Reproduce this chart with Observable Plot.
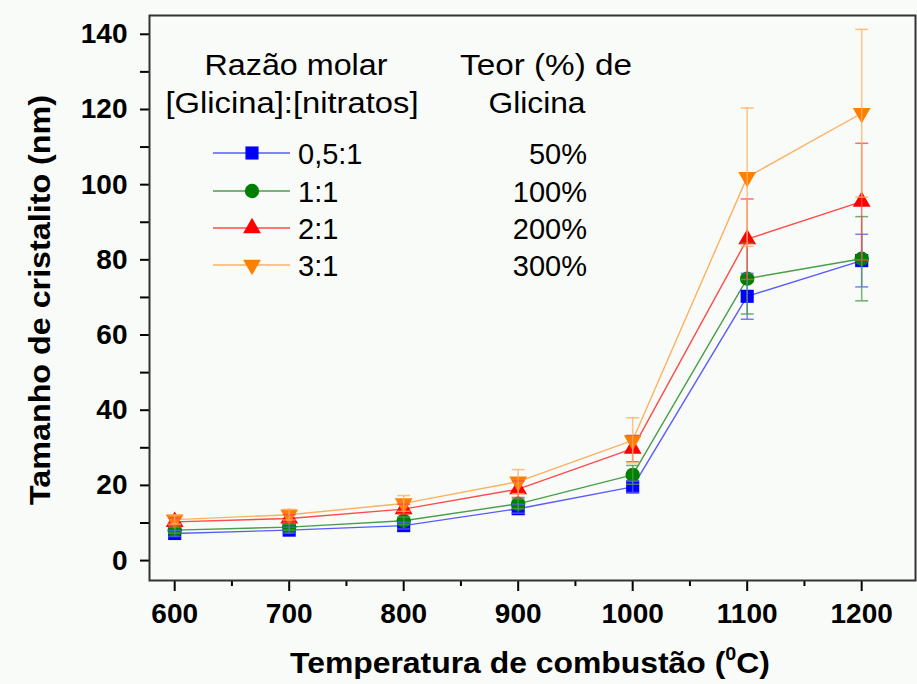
<!DOCTYPE html>
<html><head><meta charset="utf-8">
<script src="https://cdn.jsdelivr.net/npm/d3@7"></script>
<script src="https://cdn.jsdelivr.net/npm/@observablehq/plot@0.6"></script>
<style>
body{margin:0;background:#f8fbf8;}
#chart{width:917px;height:684px;}
</style></head><body><div id="chart"></div>
<script>
// ---- data ----
const temperatures = [600, 700, 800, 900, 1000, 1100, 1200];
const seriesNames = ["0,5:1", "1:1", "2:1", "3:1"];
const glycineContent = ["50%", "100%", "200%", "300%"];
const size05 = [7.2, 8.1, 9.3, 13.8, 19.6, 70.3, 79.8];
const err05  = [0.8, 0.8, 0.9, 1.2, 1.5, 6.1, 7.0];
const size1  = [8.1, 8.9, 10.6, 15.1, 22.8, 75.0, 80.3];
const err1   = [0.8, 0.8, 1.0, 1.3, 2.5, 9.4, 11.2];
const size2  = [10.3, 11.2, 13.7, 19.0, 29.8, 85.5, 95.5];
const err2   = [1.0, 1.0, 1.3, 2.2, 3.5, 10.7, 15.5];
const size3  = [10.9, 12.2, 15.2, 21.0, 32.0, 102.0, 119.0];
const err3   = [1.2, 1.4, 2.1, 3.2, 6.0, 18.4, 22.3];
const xMajor = [600, 700, 800, 900, 1000, 1100, 1200];
const xMinor = [650, 750, 850, 950, 1050, 1150];
const yMajor = [0, 20, 40, 60, 80, 100, 120, 140];
const yMinor = [10, 30, 50, 70, 90, 110, 130];

const values = [size05, size1, size2, size3];
const errors = [err05, err1, err2, err3];
const colors = ["#0000ff", "#008000", "#ff0000", "#ff8000"];
const lineColors = ["#5a5aff", "#4a9e4a", "#ff4a4a", "#ffb060"];
const symbols = ["square", "circle", "triangle", "triangle"];
const rotations = [0, 0, 0, 180];
const radii = [7.4, 7.2, 6.6, 6.6];

const rows = seriesNames.flatMap((s, i) =>
  temperatures.map((t, j) => ({series: s, i, t, v: values[i][j], e: errors[i][j]})));

const capSymbol = {draw(ctx, size) { const w = Math.sqrt(size); ctx.moveTo(-w / 2, 0); ctx.lineTo(w / 2, 0); }};

const lineMarks = seriesNames.map((s, i) =>
  Plot.line(rows.filter(d => d.i === i), {x: "t", y: "v", stroke: lineColors[i], strokeWidth: 1.4}));
const dotMarks = seriesNames.map((s, i) =>
  Plot.dot(rows.filter(d => d.i === i), {x: "t", y: "v", symbol: symbols[i], rotate: rotations[i], r: radii[i], fill: colors[i], stroke: "none"}));
const errMarks = seriesNames.flatMap((s, i) => {
  const d = rows.filter(r => r.i === i);
  return [
    Plot.ruleX(d, {x: "t", y1: r => r.v - r.e, y2: r => r.v + r.e, stroke: lineColors[i], strokeWidth: 1.5, strokeOpacity: 0.75}),
    Plot.dot(d, {x: "t", y: r => r.v + r.e, symbol: capSymbol, r: 7.3, stroke: lineColors[i], strokeWidth: 1.5, strokeOpacity: 0.8}),
    Plot.dot(d, {x: "t", y: r => r.v - r.e, symbol: capSymbol, r: 7.3, stroke: lineColors[i], strokeWidth: 1.5, strokeOpacity: 0.8})
  ];
});

const chart = Plot.plot({
  width: 917, height: 684,
  marginLeft: 149, marginRight: 2, marginTop: 15, marginBottom: 104,
  style: {background: "#f8fbf8", fontFamily: "'Liberation Sans', Arial, sans-serif", color: "#000", overflow: "visible"},
  x: {domain: [578, 1247]},
  y: {domain: [-5.3, 145]},
  marks: [
    Plot.axisX({ticks: xMajor, tickSize: 11, tickPadding: 12, fontSize: 28, fontWeight: "bold", strokeWidth: 2, label: null, tickFormat: d => String(d)}),
    Plot.axisX({ticks: xMinor, tickSize: 6, text: null, strokeWidth: 2, label: null}),
    Plot.axisY({ticks: yMajor, tickSize: 9, tickPadding: 13, fontSize: 28, fontWeight: "bold", strokeWidth: 2, label: null}),
    Plot.axisY({ticks: yMinor, tickSize: 9, text: null, strokeWidth: 2, label: null}),
    ...lineMarks,
    ...dotMarks,
    ...errMarks,
    Plot.frame({stroke: "#333", strokeWidth: 2})
  ]
});
document.getElementById("chart").appendChild(chart);

// ---- titles ----
const svg = d3.select(chart);
const font = "'Liberation Sans', Arial, sans-serif";
svg.append("text")
  .attr("transform", "translate(50,300) rotate(-90)")
  .attr("text-anchor", "middle").attr("font-family", font).attr("font-weight", "bold").attr("font-size", 30)
  .attr("textLength", 410).attr("lengthAdjust", "spacingAndGlyphs")
  .text("Tamanho de cristalito (nm)");
const xt = svg.append("text")
  .attr("transform", "translate(530,673) scale(1.1,1)")
  .attr("text-anchor", "middle")
  .attr("font-family", font).attr("font-weight", "bold").attr("font-size", 29);
xt.append("tspan").text("Temperatura de combustão (");
xt.append("tspan").attr("font-size", 18).attr("dy", -13).text("0");
xt.append("tspan").attr("dy", 13).text("C)");

// ---- legend ----
const lg = svg.append("g").attr("font-family", font).attr("font-size", 29).attr("fill", "#000").attr("text-anchor", "start");
lg.append("text").attr("x", 296).attr("y", 75).attr("text-anchor", "middle")
  .attr("textLength", 183).attr("lengthAdjust", "spacingAndGlyphs").text("Razão molar");
lg.append("text").attr("x", 292).attr("y", 113).attr("text-anchor", "middle")
  .attr("textLength", 253).attr("lengthAdjust", "spacingAndGlyphs").text("[Glicina]:[nitratos]");
lg.append("text").attr("x", 546).attr("y", 75).attr("text-anchor", "middle")
  .attr("textLength", 172).attr("lengthAdjust", "spacingAndGlyphs").text("Teor (%) de");
lg.append("text").attr("x", 537).attr("y", 113).attr("text-anchor", "middle")
  .attr("textLength", 97).attr("lengthAdjust", "spacingAndGlyphs").text("Glicina");
const symMap = {square: d3.symbolSquare, circle: d3.symbolCircle, triangle: d3.symbolTriangle};
const rowY = [153, 191, 228, 265];
seriesNames.forEach((s, i) => {
  const y = rowY[i];
  lg.append("line").attr("x1", 213).attr("x2", 290).attr("y1", y).attr("y2", y)
    .attr("stroke", lineColors[i]).attr("stroke-width", 1.4);
  lg.append("path")
    .attr("d", d3.symbol(symMap[symbols[i]], Math.PI * radii[i] * radii[i])())
    .attr("transform", `translate(252,${y}) rotate(${rotations[i]})`)
    .attr("fill", colors[i]);
  lg.append("text").attr("x", 298).attr("y", y + 11).attr("text-anchor", "start").text(s);
  lg.append("text").attr("x", 587).attr("y", y + 11).attr("text-anchor", "end").text(glycineContent[i]);
});
</script></body></html>
